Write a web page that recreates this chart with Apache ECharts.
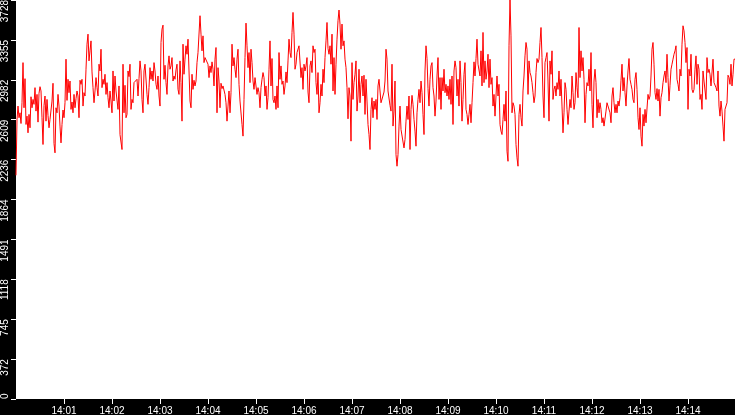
<!DOCTYPE html>
<html>
<head>
<meta charset="UTF-8">
<title>rate</title>
<script src="https://cdn.jsdelivr.net/npm/echarts@6/dist/echarts.min.js"></script>
<style>
  html, body { margin: 0; padding: 0; background: #000; }
  #chart { width: 735px; height: 415px; }
</style>
</head>
<body>
<div id="chart"></div>
<script type="text/javascript">
// sampling: one point every 1.25 s, starting 14:00:00
var stepSeconds = 1.25;

// values, in chunks of 120 points
var part1 = [2090,2612,2737,2628,2674,2574,2768,3143,2721,2993,
  2565,2643,2487,2659,2534,2824,2721,2799,2753,2909,
  2690,2846,2587,2856,2918,2878,2628,2378,2743,2831,
  2596,2799,2649,2534,2612,2612,2784,2950,2387,2300,
  2721,2674,2846,2737,2550,2393,2565,2700,2628,2768,
  3175,2790,2987,2862,2971,2706,2775,2674,2846,2721,
  2806,2878,2831,2628,2978,2940,2987,2737,2862,2831,
  3081,3315,3409,3159,3253,3346,3056,2909,2768,2878,
  3003,2909,2831,3128,3065,3268,2909,2987,2940,3034,
  2846,2956,2815,2721,2878,2784,2674,3065,2784,3018,
  2878,2862,2706,2925,2471,2456,2331,3128,2674,2931,
  2628,2659,3065,3012,3128,2706,2799,2768,2956,2971];
var part2 = [2971,2987,2831,2993,3159,3065,2799,2674,3065,3128,
  3134,2846,2753,2909,3096,2987,3065,2971,3143,3065,
  2940,2893,3018,2831,2737,3331,3456,3493,2987,3118,
  2956,2846,3112,3206,3081,3112,3190,2971,3018,2987,
  3075,3128,2893,2846,3159,2956,2596,3315,3034,3175,
  3300,3221,3362,3065,2784,2721,3034,2893,2978,2925,
  2971,3143,3237,3221,3581,3409,3253,3393,3143,3190,
  3175,3200,3128,3003,3112,3050,3150,3081,2925,3175,
  3284,2674,3096,2971,2721,2950,2900,2925,2909,2846,
  2768,2596,2737,2878,2674,2862,3315,3112,3190,3081,
  3003,3175,3268,2940,2784,2799,2565,2456,2799,3190,
  3512,3300,3096,3237,2956,3268,3143,2971,2893,3003];
var part3 = [3003,2846,2909,2862,2721,2909,2987,3050,3003,2831,
  2925,2706,2815,3081,3346,2925,3181,2799,2768,2831,
  2706,2925,2721,3237,2987,3112,2940,2971,2846,2925,
  3056,2956,3159,3362,3237,3190,3425,3612,3409,3081,
  3128,3237,3253,3300,3315,3003,3096,2893,3128,3065,
  3112,3190,2868,2768,3112,3159,3050,3300,3237,3268,
  2956,2846,3050,2674,2768,2940,2831,3081,2956,3190,
  3346,3518,3275,3221,3300,3128,3409,2878,3190,2846,
  3128,3362,3534,3634,3503,3268,3503,3300,3346,3175,
  3096,2909,2618,2909,2831,2409,3143,2799,2956,3034,
  3159,2690,2831,3081,2768,2940,3018,2831,3025,2659,
  2987,2784,2565,2471,2331,2706,2815,2628,2784,2706];
var part4 = [2799,2612,2925,2987,2878,2768,2768,2768,2868,2971,
  3268,3175,2878,2893,2743,2690,3128,2550,2690,2971,
  2284,2175,2284,2550,2737,2518,2534,2503,2346,2425,
  2596,2737,2612,2831,2331,2706,2837,2753,2612,2503,
  2362,2674,2799,2893,2768,2971,2862,2659,2471,3065,
  3300,3181,2900,2737,2987,3112,3143,2909,2831,2643,
  2784,3018,3190,2799,3003,2706,3003,2878,3081,2862,
  2940,2831,2925,2799,2987,2753,3018,2565,3065,3159,
  3096,2831,2987,2737,3159,2956,2596,2799,3034,3143,
  2706,2659,2565,2659,2753,2581,2768,2956,3150,3018,
  3181,3362,3128,3143,3018,3253,2925,3425,2956,3159,
  2987,3065,3221,2909,3175,2940,3003,2737,2846,2643];
var part5 = [2831,3018,2831,2940,2565,2503,2471,2612,2753,2596,
  2878,2315,2221,3300,3728,3393,2674,2768,2737,2659,
  2378,2253,2175,2659,2753,2628,2550,2878,3018,3206,
  3331,3268,2846,3159,3050,3018,2956,2862,2768,2831,
  3050,3181,3143,3175,3331,3471,3190,2831,2628,3143,
  3190,3237,2971,2596,3159,3034,3253,2799,2893,2925,
  2831,2956,2893,3065,2831,2987,2737,2487,2674,2956,
  2893,2706,2565,2690,2799,2721,3018,2862,2706,2768,
  3050,2909,2815,3471,3003,3253,3065,3190,2987,2581,
  2846,2956,2925,3081,2878,3237,2753,2534,2971,3081,
  2956,2628,2799,2674,2768,2706,2581,2628,2550,2550,
  2690,2768,2753,2784,2674,2581,2831,2909,2768,2674];
var part6 = [2753,2674,2784,2737,2815,2978,3128,2878,3003,2862,
  2737,2925,3065,3181,2987,2940,2893,2799,2768,2987,
  3050,2893,2628,2518,2721,2456,2362,2659,2550,2706,
  2581,2565,2846,2799,2831,3018,3268,3331,3128,2862,
  2799,2900,2784,2893,2643,2815,2862,2956,3018,3065,
  2956,3221,3003,2784,2931,3081,3128,3175,3221,3253,
  3300,2987,2940,2878,3081,3018,3315,3487,3440,3331,
  3143,3284,2706,3081,3018,3221,2893,2862,2893,3081,
  3206,2940,3128,3081,2799,2846,2706,3065,2971,2987,
  2799,3190,3050,3081,3034,2925,2940,3175,2956,2971,
  2909,2878,3065,2737,2643,2784,2690,2550,2409,2706,
  2706,2768,3025,3003,2940,3128,2925,3034,3175,3175];

// axis ticks
var yMax = 3728;
var yTickCount = 10;
var tickSeconds = [60, 120, 180, 240, 300, 360, 420, 480, 540, 600, 660, 720, 780, 840];
var tickLabels = ['14:01', '14:02', '14:03', '14:04', '14:05', '14:06', '14:07',
                  '14:08', '14:09', '14:10', '14:11', '14:12', '14:13', '14:14'];

var values = part1.concat(part2, part3, part4, part5, part6);
var points = [];
for (var i = 0; i < values.length; i++) {
    points.push([i * stepSeconds, values[i]]);
}

var chart = echarts.init(document.getElementById('chart'));
var labelFont = { color: '#fff', fontSize: 10, fontFamily: 'Liberation Sans, Arial, sans-serif' };

var option = {
    backgroundColor: '#000',
    animation: false,
    grid: {
        left: 16, right: 0, top: 0, bottom: 16,
        show: true, backgroundColor: '#fff', borderWidth: 0,
        outerBoundsMode: 'none'
    },
    xAxis: {
        type: 'value',
        min: 0,
        max: (values.length - 1) * stepSeconds,
        axisLine: { show: false },
        splitLine: { show: false },
        axisTick: {
            customValues: tickSeconds,
            length: 5,
            lineStyle: { color: '#fff' }
        },
        axisLabel: Object.assign({
            customValues: tickSeconds,
            margin: 7,
            formatter: function (v) {
                return tickLabels[tickSeconds.indexOf(v)];
            }
        }, labelFont)
    },
    yAxis: {
        type: 'value',
        min: 0,
        max: yMax,
        interval: yMax / yTickCount,
        axisLine: { show: false },
        splitLine: { show: false },
        axisTick: { length: 5, lineStyle: { color: '#fff' } },
        axisLabel: Object.assign({
            rotate: 90,
            align: 'right',
            alignMinLabel: 'left',
            verticalAlign: 'middle',
            margin: 11,
            interval: 0,
            formatter: function (v) { return Math.floor(v + 1e-6); }
        }, labelFont)
    },
    series: [{
        type: 'line',
        data: points,
        showSymbol: false,
        symbol: 'none',
        lineStyle: { color: '#ff0000', width: 1 },
        itemStyle: { color: '#ff0000' }
    }]
};
chart.setOption(option);
</script>
</body>
</html>
